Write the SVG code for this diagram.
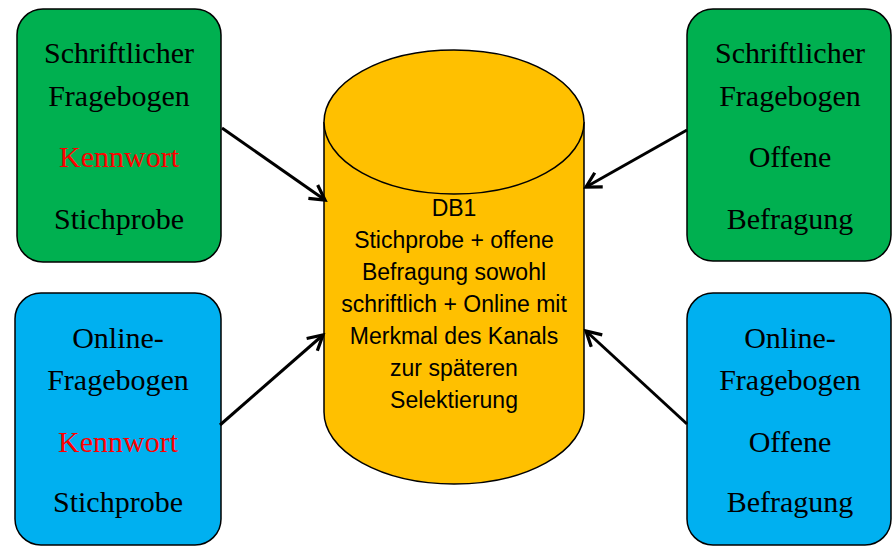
<svg xmlns="http://www.w3.org/2000/svg" width="893" height="546" viewBox="0 0 893 546">
<defs>
<style>
.box{stroke:#000;stroke-width:1.5}
.g{fill:#00B050}
.b{fill:#00B0F0}
.t{font-family:"Liberation Serif","Times New Roman",serif;font-size:30px;text-anchor:middle;fill:#000}
.r{fill:#FF0000}
.c{font-family:"Liberation Sans",Arial,sans-serif;font-size:23px;text-anchor:middle;fill:#000}
.conn{stroke:#000;stroke-width:3;fill:none;marker-end:url(#ah)}
</style>
<marker id="ah" viewBox="0 0 12 12" refX="10" refY="6" markerWidth="6.5" markerHeight="6.5" markerUnits="strokeWidth" orient="auto">
<polyline points="1,1 10,6 1,11" fill="none" stroke="#000" stroke-width="2"/>
</marker>
</defs>
<g id="db1">
<path d="M324,122 L324,412 A130,72 0 0 0 584,412 L584,122" fill="#FFC000" stroke="#000" stroke-width="1.5"/>
<ellipse cx="454" cy="122" rx="130" ry="72" fill="#FFC000" stroke="#000" stroke-width="1.5"/>
<text class="c" x="454" y="216">DB1</text>
<text class="c" x="454" y="248">Stichprobe + offene</text>
<text class="c" x="454" y="280">Befragung sowohl</text>
<text class="c" x="454" y="312">schriftlich + Online mit</text>
<text class="c" x="454" y="344">Merkmal des Kanals</text>
<text class="c" x="454" y="376">zur späteren</text>
<text class="c" x="454" y="408">Selektierung</text>
</g>
<g id="box-tl">
<rect class="box g" x="17" y="9" width="204" height="253" rx="26"/>
<text class="t" x="119" y="63">Schriftlicher</text>
<text class="t" x="119" y="106">Fragebogen</text>
<text class="t r" x="119" y="167">Kennwort</text>
<text class="t" x="119" y="229">Stichprobe</text>
</g>
<g id="box-bl">
<rect class="box b" x="15" y="293" width="206" height="252" rx="26"/>
<text class="t" x="118" y="348">Online-</text>
<text class="t" x="118" y="390">Fragebogen</text>
<text class="t r" x="118" y="452">Kennwort</text>
<text class="t" x="118" y="512">Stichprobe</text>
</g>
<g id="box-tr">
<rect class="box g" x="687" y="9" width="204" height="252" rx="26"/>
<text class="t" x="790" y="63">Schriftlicher</text>
<text class="t" x="790" y="106">Fragebogen</text>
<text class="t" x="790" y="167">Offene</text>
<text class="t" x="790" y="229">Befragung</text>
</g>
<g id="box-br">
<rect class="box b" x="687" y="293" width="204" height="252" rx="26"/>
<text class="t" x="790" y="348">Online-</text>
<text class="t" x="790" y="390">Fragebogen</text>
<text class="t" x="790" y="452">Offene</text>
<text class="t" x="790" y="512">Befragung</text>
</g>
<g id="connectors">
<line class="conn" x1="222" y1="128" x2="325" y2="200"/>
<line class="conn" x1="220" y1="425" x2="323" y2="335"/>
<line class="conn" x1="687" y1="130" x2="586" y2="187"/>
<line class="conn" x1="687" y1="424" x2="586" y2="331"/>
</g>
</svg>
